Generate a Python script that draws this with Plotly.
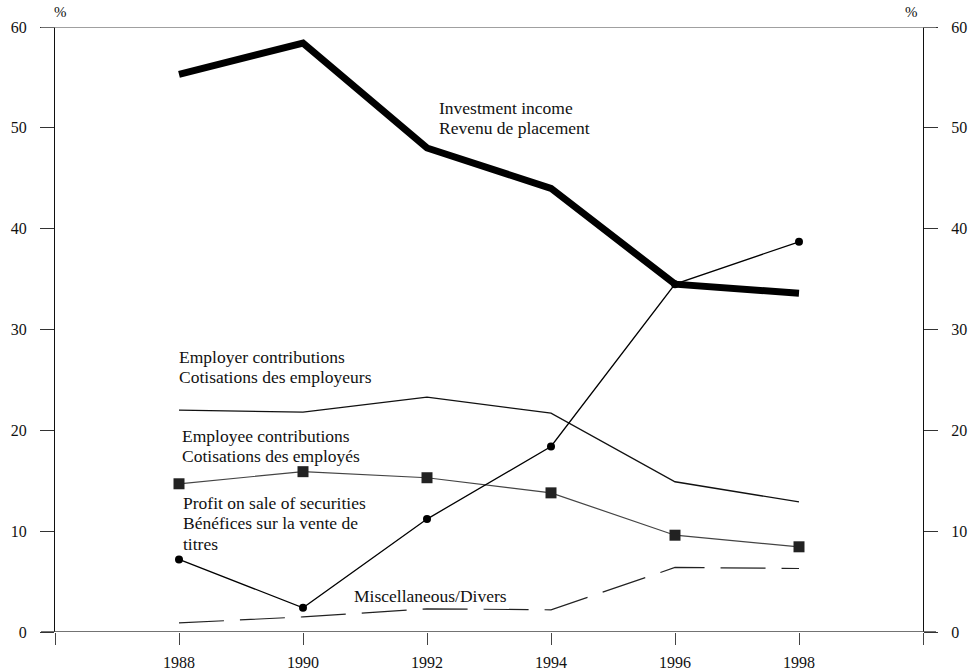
import plotly.graph_objects as go

years = [1988, 1990, 1992, 1994, 1996, 1998]
investment_income = [55.3, 58.4, 48.0, 44.0, 34.5, 33.6]
employer_contrib = [22.0, 21.8, 23.3, 21.7, 14.9, 12.9]
employee_contrib = [14.7, 15.9, 15.3, 13.8, 9.6, 8.45]
profit_securities = [7.2, 2.4, 11.2, 18.4, 34.5, 38.7]
miscellaneous = [0.9, 1.5, 2.3, 2.2, 6.4, 6.3]

x_tickvals = [1986, 1988, 1990, 1992, 1994, 1996, 1998, 2000]
x_ticktext = ["", "1988", "1990", "1992", "1994", "1996", "1998", ""]
y_tickvals = [0, 10, 20, 30, 40, 50, 60]

FONT = "Liberation Serif, Times New Roman, serif"

fig = go.Figure()

fig.add_trace(go.Scatter(x=years, y=miscellaneous, mode="lines",
                         line=dict(color="#222", width=1.2, dash="45px,16px"),
                         name="Miscellaneous/Divers"))
fig.add_trace(go.Scatter(x=years, y=employer_contrib, mode="lines",
                         line=dict(color="#111", width=1.3),
                         name="Employer contributions"))
fig.add_trace(go.Scatter(x=years, y=employee_contrib, mode="lines+markers",
                         line=dict(color="#444", width=1.2),
                         marker=dict(symbol="square", size=11, color="#222"),
                         name="Employee contributions"))
fig.add_trace(go.Scatter(x=years, y=profit_securities, mode="lines+markers",
                         line=dict(color="#000", width=1.3),
                         marker=dict(symbol="circle", size=8, color="#000"),
                         name="Profit on sale of securities"))
fig.add_trace(go.Scatter(x=years, y=investment_income, mode="lines",
                         line=dict(color="#000", width=7),
                         name="Investment income"))
# invisible trace to activate right axis
fig.add_trace(go.Scatter(x=[1986], y=[0], yaxis="y2", mode="markers",
                         marker=dict(opacity=0), showlegend=False, hoverinfo="skip"))

labels = [
    ("Investment income", 1992.18, 51.93),
    ("Revenu de placement", 1992.18, 49.95),
    ("Employer contributions", 1987.98, 27.25),
    ("Cotisations des employeurs", 1987.98, 25.27),
    ("Employee contributions", 1988.03, 19.43),
    ("Cotisations des employés", 1988.03, 17.44),
    ("Profit on sale of securities", 1988.05, 12.78),
    ("Bénéfices sur la vente de", 1988.05, 10.80),
    ("titres", 1988.05, 8.72),
    ("Miscellaneous/Divers", 1990.81, 3.57),
]
annotations = []
for txt, xv, yv in labels:
    annotations.append(dict(text=txt, x=xv, y=yv, xref="x", yref="y",
                            xanchor="left", yanchor="middle", showarrow=False,
                            borderpad=0, font=dict(family=FONT, size=17.5, color="#111")))
annotations.append(dict(text="%", x=0.006, y=1, xref="paper", yref="paper",
                        yshift=15, xanchor="center", yanchor="middle", showarrow=False,
                        font=dict(family=FONT, size=15, color="#111")))
annotations.append(dict(text="%", x=0.987, y=1, xref="paper", yref="paper",
                        yshift=15, xanchor="center", yanchor="middle", showarrow=False,
                        font=dict(family=FONT, size=15, color="#111")))

shapes = [
    dict(type="line", xref="paper", yref="y", x0=-14/868, x1=1+13/868, y0=60, y1=60,
         line=dict(color="#808080", width=1.3)),
    dict(type="line", xref="paper", yref="y", x0=-14/868, x1=1+13/868, y0=0, y1=0,
         line=dict(color="#444", width=1.3)),
]

axis_font = dict(family=FONT, size=16, color="#111")
fig.update_layout(
    width=968, height=670,
    margin=dict(l=55, r=45, t=27, b=38, autoexpand=False),
    paper_bgcolor="white", plot_bgcolor="white",
    showlegend=False,
    annotations=annotations,
    shapes=shapes,
    xaxis=dict(range=[1986, 2000], tickvals=x_tickvals, ticktext=x_ticktext,
               ticks="outside", ticklen=12, tickcolor="#444", tickwidth=1.2,
               showgrid=False, zeroline=False, showline=False, automargin=False,
               tickfont=axis_font, ticklabelstandoff=4),
    yaxis=dict(range=[0, 60], tickvals=y_tickvals, ticks="outside", ticklen=14,
               tickcolor="#333", tickwidth=1.2, showgrid=False, zeroline=False,
               showline=True, linecolor="#111", linewidth=1.2, automargin=False,
               tickfont=axis_font, ticklabelstandoff=10),
    yaxis2=dict(range=[0, 60], tickvals=y_tickvals, ticks="outside", ticklen=14,
                tickcolor="#333", tickwidth=1.2, showgrid=False, zeroline=False,
                showline=True, linecolor="#111", linewidth=1.2, overlaying="y",
                automargin=False, side="right", tickfont=axis_font, ticklabelstandoff=10),
)

fig.write_html(
    "out.html",
    config={"displayModeBar": False},
    post_script="document.body.style.margin='0';document.body.style.overflow='hidden';",
)
